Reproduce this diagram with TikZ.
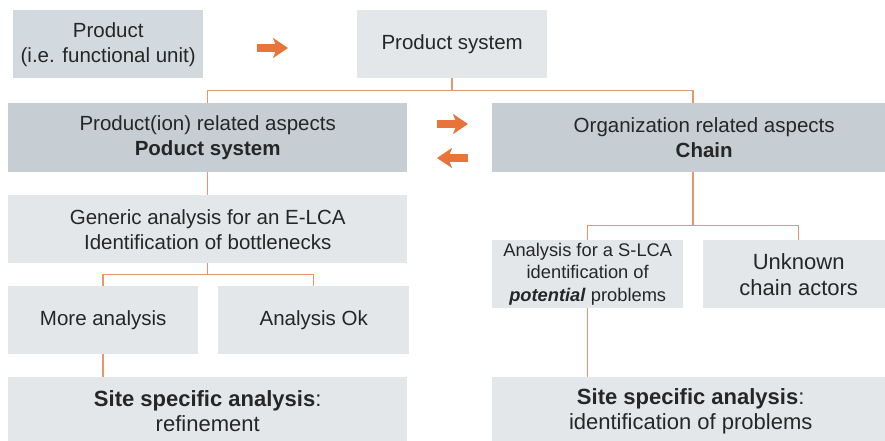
\documentclass[tikz,border=0pt]{standalone}
\usepackage{fontspec}
\setmainfont{Liberation Sans}
\usetikzlibrary{arrows.meta,calc}
\definecolor{boxlight}{HTML}{E3E7EA}
\definecolor{boxmid}{HTML}{D3DADF}
\definecolor{boxdark}{HTML}{C6CED4}
\definecolor{linkorange}{HTML}{E8956B}
\definecolor{arroworange}{HTML}{E8743B}
\definecolor{ink}{HTML}{262626}
\begin{document}
\begin{tikzpicture}[x=1pt,y=-1pt,
  box/.style={rectangle, inner sep=0pt, anchor=north west, align=center,
    text=ink, fill=boxlight, font=\fontsize{20.5}{25}\selectfont},
  darkbox/.style={box, fill=boxdark},
  link/.style={draw=linkorange, line width=1.5pt},
  bigarrow/.style={draw=arroworange, line width=7.5pt,
    -{Stealth[length=15pt,width=20pt,inset=4pt]}}]
\useasboundingbox (0,0) rectangle (885,440);

% top row
\node[box, fill=boxmid, minimum width=190pt, minimum height=68pt] (b1) at (13,10)
  {Product\\(i.e. functional unit)};
\node[box, minimum width=190pt, minimum height=68pt] (b2) at (357,10)
  {Product system};

% aspects
\node[darkbox, minimum width=399pt, minimum height=69pt] (b3) at (8,103)
  {Product(ion) related aspects\\\textbf{Poduct system}};
\node[darkbox, minimum width=424pt, minimum height=69pt] (b4) at (492,103)
  {Organization related aspects\\\textbf{Chain}};

% left branch
\node[box, minimum width=399pt, minimum height=68pt] (b5) at (8,195)
  {Generic analysis for an E-LCA\\Identification of bottlenecks};
\node[box, minimum width=190pt, minimum height=68pt] (b6) at (8,286)
  {More analysis};
\node[box, minimum width=191pt, minimum height=68pt] (b7) at (218,286)
  {Analysis Ok};
\node[box, minimum width=399pt, minimum height=68pt,
  font=\fontsize{22}{25}\selectfont] (b8) at (8,377)
  {\textbf{Site specific analysis}:\\refinement};

% right branch
\node[box, minimum width=191pt, minimum height=68pt,
  font=\fontsize{18.3}{22.5}\selectfont] (b9) at (492,240)
  {Analysis for a S-LCA\\identification of\\\textbf{\textit{potential}} problems};
\node[box, minimum width=191pt, minimum height=68pt,
  font=\fontsize{22}{26}\selectfont] (b10) at (703,240)
  {Unknown\\chain actors};
\node[box, minimum width=397pt, minimum height=68pt,
  font=\fontsize{22}{25}\selectfont] (b11) at (492,377)
  {\textbf{Site specific analysis}:\\identification of problems};

% connectors
\draw[link] (b2.south) -- ++(0,12) coordinate (j1);
\draw[link] (b3.north) |- (j1);
\draw[link] (j1) -| ($(b4.north west)+(201,0)$);
\draw[link] (b3.south) -- (b5.north);
\draw[link] (b5.south) -- ++(0,11) coordinate (j2);
\draw[link] (b6.north) |- (j2) -| (b7.north);
\draw[link] (b6.south) -- (b6.south |- b8.north);
\draw[link] ($(b4.south west)+(201,0)$) -- ++(0,53) coordinate (j3);
\draw[link] (b9.north) |- (j3) -| (b10.north);
\draw[link] (b9.south) -- (b9.south |- b11.north);

% direction arrows
\coordinate (a1s) at (257,48);
\coordinate (a1e) at (288,48);
\coordinate (a2s) at (437,124);
\coordinate (a2e) at (468,124);
\coordinate (a3s) at (468,158);
\coordinate (a3e) at (437,158);
\draw[bigarrow] (a1s) -- (a1e);
\draw[bigarrow] (a2s) -- (a2e);
\draw[bigarrow] (a3s) -- (a3e);
\end{tikzpicture}
\end{document}
